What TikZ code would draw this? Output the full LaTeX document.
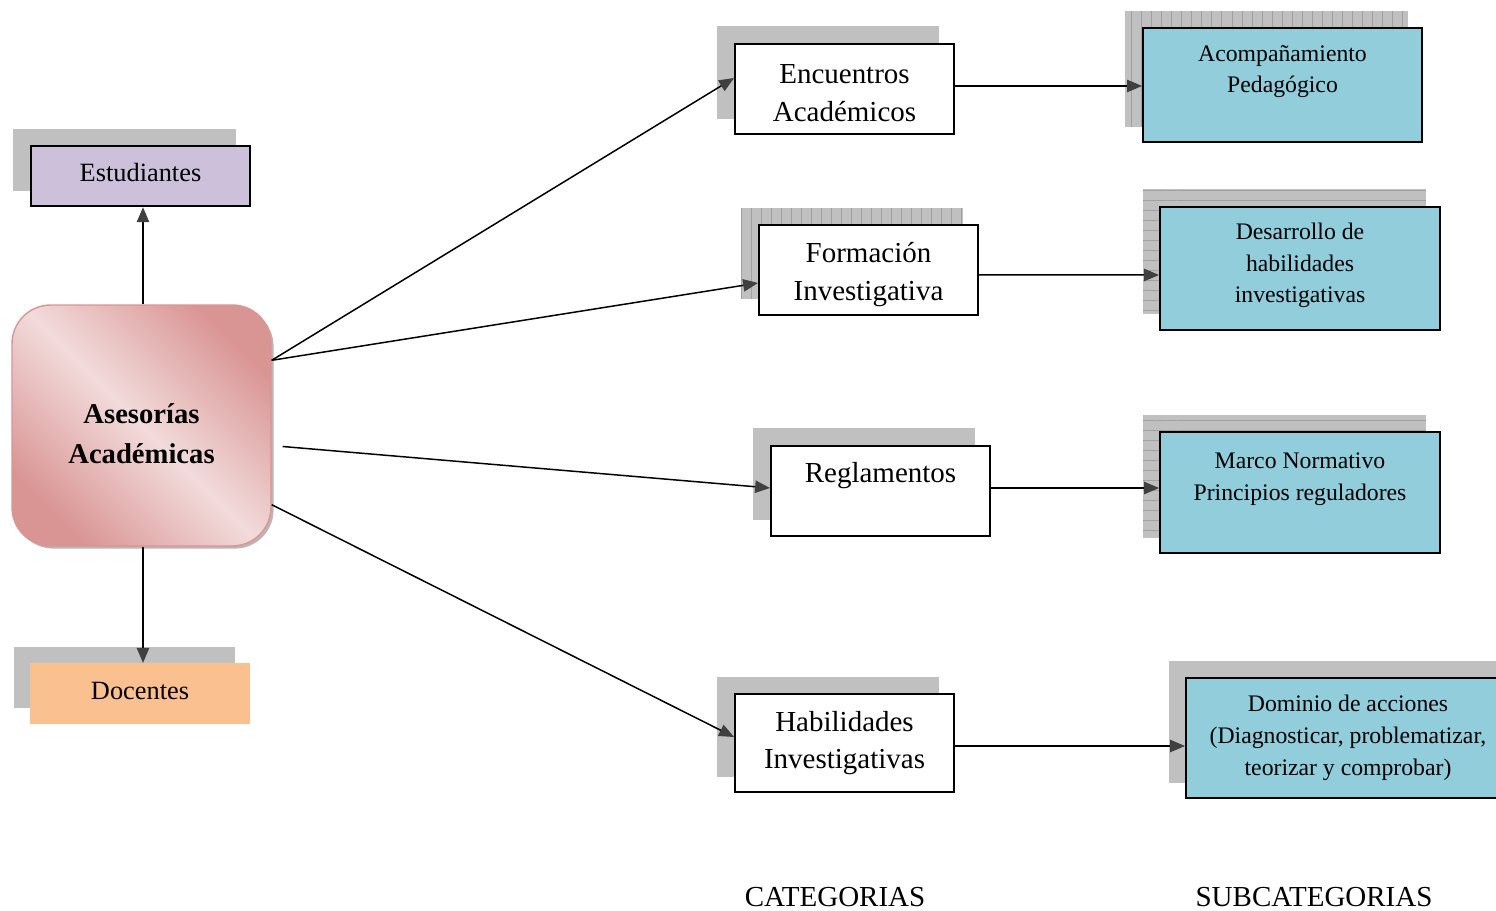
\documentclass[tikz,border=0pt]{standalone}
\usepackage{fontspec}
\setmainfont{Liberation Serif}
\usetikzlibrary{arrows.meta,shadows,patterns.meta,backgrounds,calc}
\definecolor{lav}{HTML}{CCC0DA}
\definecolor{peach}{HTML}{FAC090}
\definecolor{aqua}{HTML}{92CDDC}
\definecolor{pinkdark}{HTML}{D99594}
\definecolor{pinklight}{HTML}{F2DBDB}
\definecolor{tipgray}{HTML}{404040}
\definecolor{shadegray}{HTML}{C0C0C0}
\definecolor{lingray}{HTML}{A0A0A0}
\newcommand{\uph}[1]{\rule{0pt}{#1}}
\newcommand{\dnd}[1]{\rule[-#1]{0pt}{#1}}
\begin{document}
\begin{tikzpicture}[x=0.02cm,y=-0.02cm,
  box/.style={draw=black, line width=1.1pt, align=center, inner sep=0pt, text=black},
  catbox/.style={box, fill=white, minimum width=4.38cm, font=\fontsize{16.5}{21.5}\selectfont},
  subbox/.style={box, fill=aqua, font=\fontsize{13.5}{18.1}\selectfont},
  sidebox/.style={align=center, inner sep=0pt, minimum width=4.39cm, minimum height=1.21cm, font=\fontsize{15}{18}\selectfont},
  ase/.style={rounded corners=22pt, draw=pinkdark, line width=0.8pt,
    top color=pinkdark, bottom color=pinkdark, middle color=pinklight, shading angle=-45,
    drop shadow={shadow xshift=1.5pt, shadow yshift=-1.5pt, opacity=0.6, fill=gray!80!pinkdark},
    minimum width=5.18cm, minimum height=4.82cm, align=center,
    font=\bfseries\fontsize{16.3}{22.7}\selectfont},
  conn/.style={draw=black, line width=0.85pt, -{Triangle[length=8.5pt,width=7pt,color=tipgray]}},
  shd/.style={fill=shadegray},
  vshd/.style={fill=shadegray, postaction={pattern={Lines[angle=90,distance=5.7pt,line width=0.35pt]}, pattern color=lingray}},
  hshd/.style={fill=shadegray, postaction={pattern={Lines[angle=0,distance=5.7pt,line width=0.35pt]}, pattern color=lingray}},
  lbl/.style={font=\fontsize{16.5}{20}\selectfont, inner sep=0pt}
]
\useasboundingbox (0,0) rectangle (1496,911);

% left column
\node[sidebox, draw=black, line width=1.1pt, fill=lav] (est) at (140.5,176) {Estudiantes\dnd{4.6pt}};
\node[ase] (ase) at (141.5,425.5) {\uph{20.3pt}Asesorías\\Académicas};
\node[sidebox, fill=peach] (doc) at (140,693.5) {Docentes\dnd{3.4pt}};

% categories
\node[catbox, minimum height=1.8cm] (enc) at (844.5,89) {\uph{15.5pt}Encuentros\\Académicos};
\node[catbox, minimum height=1.8cm] (for) at (868.5,270) {\uph{17pt}Formación\\Investigativa};
\node[catbox, minimum height=1.8cm] (reg) at (880.5,491) {Reglamentos\\\mbox{}};
\node[catbox, minimum height=1.96cm] (hab) at (844.5,743) {Habilidades\\Investigativas};

% subcategories
\node[subbox, minimum width=5.58cm, minimum height=2.28cm] (acm) at (1282.5,85) {Acompañamiento\\Pedagógico\\\mbox{}};
\node[subbox, minimum width=5.6cm, minimum height=2.46cm] (des) at (1300,268.5) {Desarrollo de\\habilidades\\investigativas\dnd{6.4pt}};
\node[subbox, minimum width=5.6cm, minimum height=2.42cm] (mar) at (1300,492.5) {Marco Normativo\\Principios reguladores\\\mbox{}};
\node[subbox, minimum width=6.48cm, minimum height=2.4cm] (dom) at (1348,738) {Dominio de acciones\\(Diagnosticar, problematizar,\\teorizar y comprobar)};

% bottom labels
\node[lbl] (cat) at (835,897) {CATEGORIAS};
\node[lbl] (sub) at (1314,897) {SUBCATEGORIAS};

% shadows
\begin{scope}[on background layer]
  \fill[shd] ($(est.south west)+(-17,-16)$) rectangle ($(est.north east)+(-15,-16)$);
  \fill[shd] ($(doc.south west)+(-16,-16)$) rectangle ($(doc.north east)+(-15,-16)$);
  \fill[shd] ($(enc.south west)+(-17,-16)$) rectangle ($(enc.north east)+(-16,-17)$);
  \fill[vshd] ($(for.south west)+(-17,-17)$) rectangle ($(for.north east)+(-16,-16)$);
  \fill[shd] ($(reg.south west)+(-17,-17)$) rectangle ($(reg.north east)+(-16,-17)$);
  \fill[shd] ($(hab.south west)+(-17,-16)$) rectangle ($(hab.north east)+(-16,-16)$);
  \fill[vshd] ($(acm.south west)+(-17,-16)$) rectangle ($(acm.north east)+(-15,-16)$);
  \fill[hshd] ($(des.south west)+(-16,-17)$) rectangle ($(des.north east)+(-15,-17)$);
  \fill[hshd] ($(mar.south west)+(-16,-16)$) rectangle ($(mar.north east)+(-15,-16)$);
  \fill[shd] ($(dom.south west)+(-16,-16)$) rectangle ($(dom.north east)+(-14,-16)$);
\end{scope}

% connectors
\draw[conn] ($(ase.north)+(1.5,0)$) -- ($(ase.north |- est.south)+(1.5,0)$);
\draw[conn] ($(ase.south)+(1.5,0)$) -- ($(ase.south |- doc.north)+(1.5,0)$);
\draw[conn] ($(ase.north east)+(0,56)$) -- ($(enc.west)+(0,-11)$);
\draw[conn] ($(ase.north east)+(0,56)$) -- ($(for.west)+(0,13)$);
\draw[conn] ($(ase.east)+(11,21)$) -- ($(reg.west)+(0,-3)$);
\draw[conn] ($(ase.south east)+(0,-42)$) -- ($(hab.west)+(0,-6)$);
\draw[conn] ($(enc.east)+(0,-3)$) -- ($(acm.west)+(0,1)$);
\draw[conn] ($(for.east)+(0,5)$) -- ($(des.west)+(0,6.5)$);
\draw[conn] ($(reg.east)+(0,-3)$) -- ($(mar.west)+(0,-4.5)$);
\draw[conn] ($(hab.east)+(0,3)$) -- ($(dom.west)+(0,8)$);
\end{tikzpicture}
\end{document}
